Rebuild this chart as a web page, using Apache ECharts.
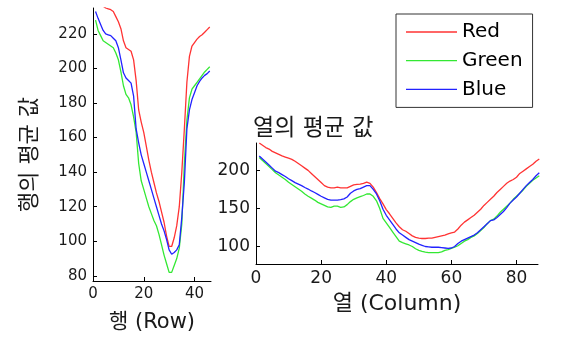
<!DOCTYPE html>
<html><head><meta charset="utf-8">
<script src="https://cdn.jsdelivr.net/npm/echarts@6/dist/echarts.min.js"></script>
<style>html,body{margin:0;padding:0;background:#fff}#c{width:565px;height:338px}</style>
</head><body><div id="c"></div>
<script>
// Row means (rows 1..46)
const rowRed = [242,240,238,236,235,234.5,234,233,230,227,223,216,212,211,210,205,193,176,169,163,155,147,140,134,128,123,117,111,103,97,97,102,109,120,140,165,192,207,213,215,217,218.5,219.5,221,222.5,224];
const rowGreen = [228,222,219,216,215,214,213,212,209,205,198,190,185,183,179,172,163,145,135,130,125,120,116,112,109,104,98,92,87,82,82,86,90,96,110,145,170,183,188,190,192,194,196,198,199.5,201];
const rowBlue = [233,229,225.5,222,220,219.5,219,217.5,216,212,205,197.5,194.5,193,191.5,184,165,157,150,145,140,135,130,125,120,115,110,106,101,95,92.5,93.5,95,98,114,134,165,176,182,186,190,192.5,194.5,196,197,198.5];
// Column means (columns 1..87)
const colRed = [236,233,230,228,225,223,221,219,217.5,216,214.5,212,209,206,203,200,196,192,188,184,180,178,177,177,178,177,177,177,179,181,181.5,182,183,184.5,183,178,171,163,156,148.5,143,137,131,126,122,120,117,114,112,111,110.5,110.5,111,111,112,113,114,115,116.5,118,119,123,128,132,135,138,141,145,149,154,158,162,166,171,175,179,183,186,188,191,196,199,202,205,208,212,215];
const colGreen = [217,213,209,205,201,197,194,191,188,184.5,181.5,178.5,175.5,172.5,169,166,163.5,161,158,156,154,152,151.5,153,153,151.5,152,155,159,162,164,165.5,167,169,169,166,160,150,137,131,125,119,113,107,105,103.5,102,100,97,95,93.5,92.5,92,92,92,92,93,95,96,97.5,99,101,104,107,109,112,114,117,121,125,130,134,136,140,145,149,153,157,162,166,170,174,179,183,187,190,193];
const colBlue = [219,215,211,207,203,199,197,194.5,192,189,186.5,184,182,180,177.5,175.5,173,171,168.5,166,164,162,161,161,161,161.5,162.5,165,170,173,175,176,178,180,180,175,169,160,149,141,135,129,123,118,115,112,109,107,105,103,101.5,100,99.5,99,99,99,98.5,98,97.5,98,100,104,107,109,111,113,115,118,122,126,130,134,135,138,142,146,151,157,161,165,170,175,180,184,188,193,197];
const rowTicks = [0,20,40];
const rowValTicks = [80,100,120,140,160,180,200,220];
const colTicks = [0,20,40,60,80];
const colValTicks = [100,150,200];
const names = ['Red','Green','Blue'];
const colors = ['#ff3333','#33e833','#2222ff'];

const pairs = arr => arr.map((v,i)=>[i+1,v]);
const numFont = 'DejaVu Sans';
const korFont = 'DejaVu Sans, Noto Sans CJK KR';

function xAx(gi,max,ticks,name,nameGap,fs,nameFs){
  return {type:'value',gridIndex:gi,min:0,max:max,
    axisLine:{show:true,onZero:false,lineStyle:{color:'#000',width:1}},
    axisTick:{show:true,inside:true,length:4,customValues:ticks,lineStyle:{color:'#000'}},
    axisLabel:{customValues:ticks,color:'#1a1a1a',fontFamily:numFont,fontSize:fs,margin:6},
    splitLine:{show:false},
    name:name,nameLocation:'middle',nameGap:nameGap,
    nameTextStyle:{fontFamily:korFont,fontSize:nameFs,color:'#1a1a1a'}};
}
function yAx(gi,min,max,ticks,fs,extra){
  return Object.assign({type:'value',gridIndex:gi,min:min,max:max,
    axisLine:{show:true,onZero:false,lineStyle:{color:'#000',width:1}},
    axisTick:{show:true,inside:true,length:4,customValues:ticks,lineStyle:{color:'#000'}},
    axisLabel:{customValues:ticks,color:'#1a1a1a',fontFamily:numFont,fontSize:fs,margin:6},
    splitLine:{show:false}},extra||{});
}

const series = [];
const rowData=[rowRed,rowGreen,rowBlue], colData=[colRed,colGreen,colBlue];
for(let k=0;k<3;k++){
  series.push({name:names[k],type:'line',xAxisIndex:0,yAxisIndex:0,data:pairs(rowData[k]),symbol:'none',
    lineStyle:{color:colors[k],width:1.3},itemStyle:{color:colors[k]},clip:true,animation:false});
  series.push({name:names[k],type:'line',xAxisIndex:1,yAxisIndex:1,data:pairs(colData[k]),symbol:'none',
    lineStyle:{color:colors[k],width:1.3},itemStyle:{color:colors[k]},clip:true,animation:false});
}

const chart = echarts.init(document.getElementById('c'),null,{renderer:'canvas'});
chart.setOption({
  backgroundColor:'#fff',
  animation:false,
  title:{text:'열의 평균 값',left:253,top:118,padding:0,
    textStyle:{fontFamily:korFont,fontSize:23,fontWeight:'normal',color:'#1a1a1a'}},
  legend:{data:names,orient:'vertical',left:396,top:14,padding:[8,10,8,10],
    icon:'rect',itemWidth:51,itemHeight:1.3,itemGap:8.7,
    borderColor:'#333',borderWidth:1,backgroundColor:'#fff',
    textStyle:{fontFamily:numFont,fontSize:20,color:'#000',lineHeight:20}},
  grid:[
    {left:93,top:8,width:118,height:274},
    {left:256,top:143,width:282,height:121}
  ],
  xAxis:[
    xAx(0,46.5,rowTicks,'행 (Row)',31,15,21),
    xAx(1,86.6,colTicks,'열 (Column)',29,17,22)
  ],
  yAxis:[
    yAx(0,77,235,rowValTicks,15,{name:'행의 평균 값',nameLocation:'middle',nameGap:52,nameRotate:90,
      nameTextStyle:{fontFamily:korFont,fontSize:22,color:'#1a1a1a',padding:[0,20,0,0]}}),
    yAx(1,77,236,colValTicks,17)
  ],
  series:series
});
</script></body></html>
